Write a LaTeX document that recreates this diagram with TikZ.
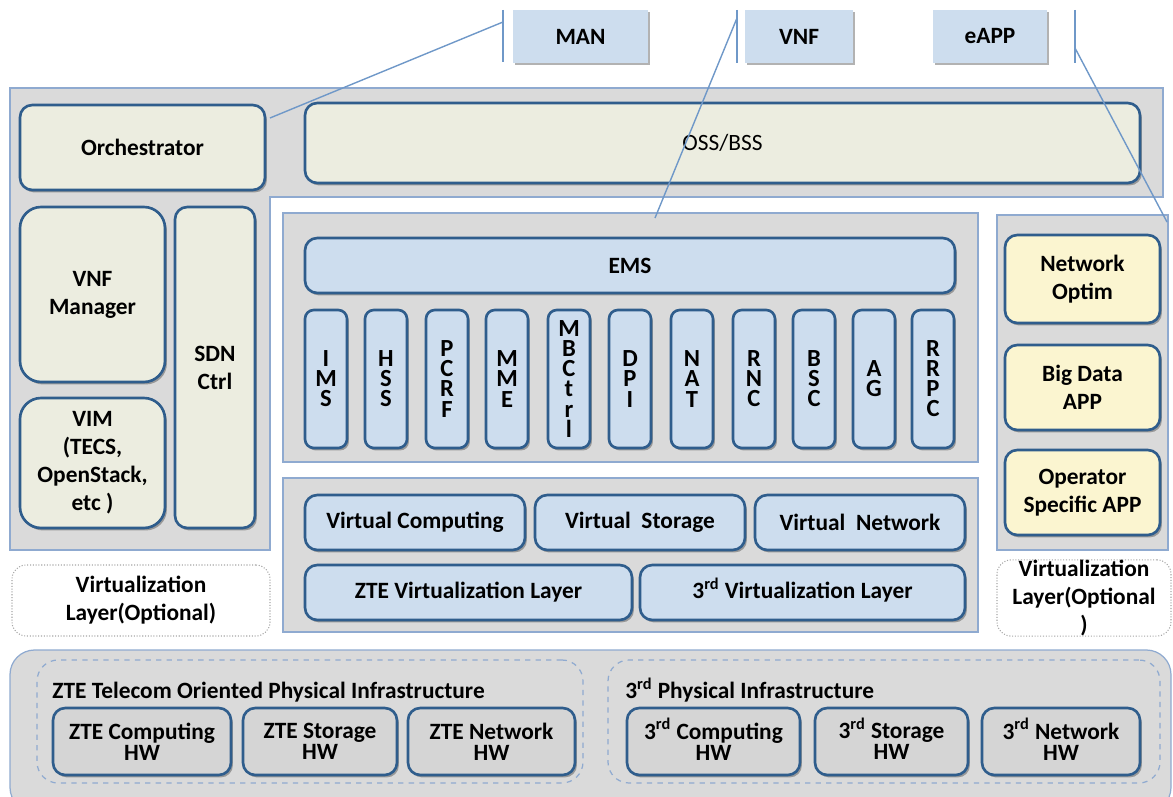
\documentclass[tikz,border=0pt]{standalone}
\usepackage{fontspec}
\setmainfont{Carlito}
\usetikzlibrary{shadows}
\definecolor{grayc}{HTML}{DADADA}
\definecolor{framec}{HTML}{8FAAD0}
\definecolor{bordc}{HTML}{2F5D8C}
\definecolor{beigec}{HTML}{ECEDE0}
\definecolor{bluec}{HTML}{CDDDEE}
\definecolor{yelc}{HTML}{FBF5D0}
\definecolor{hwc}{HTML}{D5D5D5}
\definecolor{linec}{HTML}{6F98C8}
% box from corner (x1,y1) to corner (x2,y2), in pixels
\newcommand\bx[7][]{%
  \node[#2, #1, minimum width={(#5-#3)*0.02cm}, minimum height={(#6-#4)*0.02cm}]
    (#7) at ({(#3+#5)/2},{(#4+#6)/2})}
\newcommand\rdsup{\smash{\textsuperscript{rd}}}
\begin{document}
\begin{tikzpicture}[x=0.02cm,y=-0.02cm,
  txt/.style={font=\fontsize{13.3}{16}\selectfont\bfseries, align=center, text=black},
  shad/.style={drop shadow={shadow xshift=1.1pt, shadow yshift=-1.4pt, fill=black, opacity=0.3}},
  box/.style={txt, shad, draw=bordc, line width=1.5pt, rounded corners=7pt, inner sep=0pt},
  beigebox/.style={box, fill=beigec},
  bluebox/.style={box, fill=bluec},
  yelbox/.style={box, fill=yelc},
  hwbox/.style={box, fill=hwc, font=\fontsize{13.3}{12}\selectfont\bfseries},
  vnfbox/.style={bluebox, rounded corners=5pt, font=\fontsize{14}{11.4}\selectfont\bfseries},
  topbox/.style={txt, shad, fill=bluec, inner sep=0pt},
  frame/.style={draw=framec, fill=grayc, line width=0.7pt, inner sep=0pt},
  optbox/.style={txt, draw=black!35, densely dotted, line width=0.6pt, fill=white, rounded corners=8pt, inner sep=0pt},
  dashframe/.style={draw=framec, dashed, line width=0.7pt, rounded corners=12pt, inner sep=0pt},
  conn/.style={draw=linec, line width=0.8pt},
  title/.style={txt, anchor=west, inner sep=0pt}
]
\useasboundingbox (0,0) rectangle (1173,797);

% ---------- top labels ----------
\bx{topbox}{513}{10}{648}{63}{man} {MAN};
\bx{topbox}{745}{10}{853}{63}{vnf} {VNF};
\bx{topbox}{933}{10}{1047}{63}{eapp} {eAPP};

% ---------- main management frame (L shape) ----------
\path[frame] (10,88) -- (1163,88) -- (1163,197) -- (270,197) -- (270,550) -- (10,550) -- cycle;

\bx{beigebox}{20}{105}{265}{190}{orch} {Orchestrator};
\bx[font=\fontsize{13.3}{16}\selectfont]{beigebox}{305}{103}{1140}{183}{oss} {OSS/BSS};
\bx[rounded corners=12pt]{beigebox}{20}{207}{165}{382}{vnfm} {VNF\\Manager};
\bx[rounded corners=12pt]{beigebox}{20}{398}{165}{528}{vim} {VIM\\(TECS,\\OpenStack,\\etc )};
\bx{beigebox}{175}{207}{255}{528}{sdn} {SDN\\Ctrl};

% ---------- VNF frame ----------
\bx{frame}{283}{213}{978}{462}{vnfframe} {};
\bx{bluebox}{305}{238}{955}{293}{ems} {EMS};
\foreach \x/\t [count=\i] in {305/{I\\M\\S},365/{H\\S\\S},426/{P\\C\\R\\F},486/{M\\M\\E},548/{M\\B\\C\\t\\r\\l},609/{D\\P\\I},671/{N\\A\\T},733/{R\\N\\C},793/{B\\S\\C},853/{A\\G},912/{R\\R\\P\\C}}
  {\bx{vnfbox}{\x}{310}{\x+42}{448}{vnf\i} {\t};}

% ---------- virtualization frame ----------
\bx{frame}{283}{478}{978}{632}{virtframe} {};
\bx{bluebox}{305}{495}{525}{550}{vcomp} {Virtual Computing};
\bx{bluebox}{535}{495}{745}{550}{vstor} {Virtual\ \ Storage};
\bx{bluebox}{755}{495}{965}{550}{vnet} {Virtual\ \ Network};
\bx{bluebox}{305}{565}{632}{620}{zvl} {ZTE Virtualization Layer};
\bx{bluebox}{640}{565}{965}{620}{tvl} {3\rdsup{} Virtualization Layer};

% ---------- app frame ----------
\bx{frame}{997}{215}{1168}{550}{appframe} {};
\bx{yelbox}{1005}{235}{1160}{323}{nopt} {Network\\Optim};
\bx{yelbox}{1005}{345}{1160}{430}{bigd} {Big Data\\APP};
\bx{yelbox}{1005}{450}{1160}{535}{opapp} {Operator\\Specific APP};

% ---------- optional virtualization ----------
\bx{optbox}{12}{565}{270}{636}{optl} {Virtualization\\Layer(Optional)};
\bx{optbox}{997}{563}{1171}{633}{optr} {Virtualization\\Layer(Optional\\)};

% ---------- physical infrastructure ----------
\path[frame, rounded corners=14pt] (10,650) rectangle (1171,812);
\bx{dashframe}{37}{660}{583}{783}{zteinf} {};
\bx{dashframe}{608}{660}{1160}{783}{thinf} {};
\node[title] (ztet) at (52,692) {ZTE Telecom Oriented Physical Infrastructure};
\node[title] (tht) at (625,692) {3\rdsup{} Physical Infrastructure};
\bx{hwbox}{53}{708}{231}{775}{zc} {ZTE Computing\\HW};
\bx{hwbox}{243}{708}{397}{775}{zs} {ZTE Storage\\HW};
\bx{hwbox}{408}{708}{575}{775}{zn} {ZTE Network\\HW};
\bx{hwbox}{627}{708}{800}{775}{tc} {3\rdsup{} Computing\\HW};
\bx{hwbox}{815}{708}{968}{775}{ts} {3\rdsup{} Storage\\HW};
\bx{hwbox}{982}{708}{1140}{775}{tn} {3\rdsup{} Network\\HW};

% ---------- callout connectors ----------
\coordinate (manA) at (503,10);
\coordinate (manB) at (503,62);
\coordinate (manJ) at (503,22);
\coordinate (orchT) at (270,118);
\draw[conn] (manA) -- (manB);
\draw[conn] (manJ) -- (orchT);

\coordinate (vnfA) at (737,10);
\coordinate (vnfB) at (737,63);
\coordinate (vnfJ) at (737,18);
\coordinate (vnfT) at (655,218);
\draw[conn] (vnfA) -- (vnfB);
\draw[conn] (vnfJ) -- (vnfT);

\coordinate (eappA) at (1075,10);
\coordinate (eappB) at (1075,63);
\coordinate (eappJ) at (1075,48);
\coordinate (eappT) at (1167,222);
\draw[conn] (eappA) -- (eappB);
\draw[conn] (eappJ) -- (eappT);
\end{tikzpicture}
\end{document}
